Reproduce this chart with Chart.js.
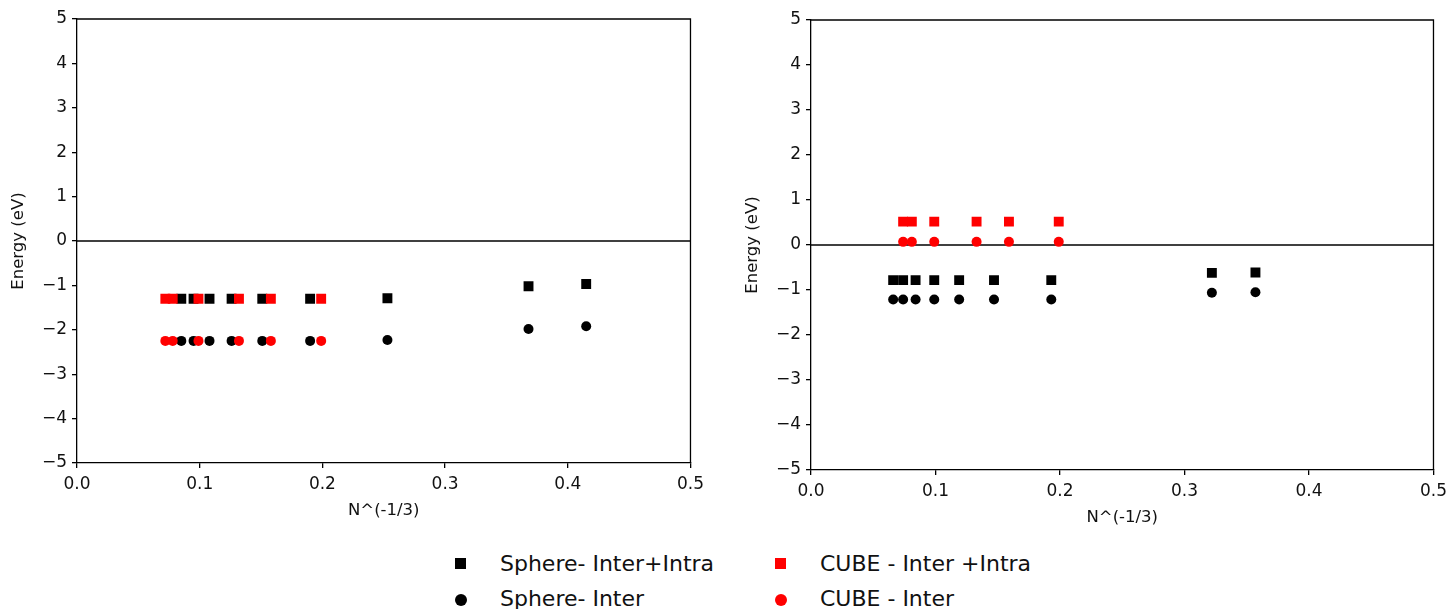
<!DOCTYPE html>
<html>
<head>
<meta charset="utf-8">
<script src="https://cdn.jsdelivr.net/npm/chart.js@4.4.1/dist/chart.umd.min.js"></script>
<style>
  body { margin: 0; background: #fff; width: 1453px; height: 609px; position: relative; overflow: hidden; font-family: "DejaVu Sans", sans-serif; }
  canvas { position: absolute; top: 0; }
  #left-chart { left: 0; }
  #right-chart { left: 734px; }
  .legend-mark { position: absolute; width: 11px; height: 11px; }
  .legend-text { position: absolute; font-size: 22px; color: #111; line-height: 26px; white-space: nowrap; }
</style>
</head>
<body>
<canvas id="left-chart" width="710" height="530"></canvas>
<canvas id="right-chart" width="719" height="537"></canvas>

<div class="legend-mark" style="left:455px;top:558px;background:#000"></div>
<div class="legend-text" style="left:500px;top:551px">Sphere- Inter+Intra</div>
<div class="legend-mark" style="left:455px;top:594px;width:12px;height:12px;background:#000;border-radius:50%"></div>
<div class="legend-text" style="left:500px;top:586px">Sphere- Inter</div>
<div class="legend-mark" style="left:775px;top:558px;background:#f00"></div>
<div class="legend-text" style="left:820px;top:551px">CUBE - Inter +Intra</div>
<div class="legend-mark" style="left:775px;top:594px;width:12px;height:12px;background:#f00;border-radius:50%"></div>
<div class="legend-text" style="left:820px;top:586px">CUBE - Inter</div>

<script>
// left panel
const leftSphereX = [0.085, 0.095, 0.108, 0.126, 0.151, 0.190, 0.253, 0.368, 0.415];
const leftSphereIntra = [-1.30, -1.30, -1.30, -1.30, -1.30, -1.30, -1.29, -1.02, -0.97];
const leftSphereInter = [-2.25, -2.25, -2.25, -2.25, -2.25, -2.25, -2.23, -1.98, -1.92];
const leftCubeX = [0.072, 0.078, 0.099, 0.132, 0.158, 0.199];
const leftCubeIntra = [-1.30, -1.30, -1.30, -1.30, -1.30, -1.30];
const leftCubeInter = [-2.25, -2.25, -2.25, -2.25, -2.25, -2.25];

// right panel
const rightSphereX = [0.066, 0.074, 0.084, 0.099, 0.119, 0.147, 0.193, 0.322, 0.357];
const rightSphereIntra = [-0.78, -0.78, -0.78, -0.78, -0.78, -0.78, -0.78, -0.62, -0.61];
const rightSphereInter = [-1.21, -1.21, -1.21, -1.21, -1.21, -1.21, -1.21, -1.06, -1.05];
const rightCubeX = [0.074, 0.081, 0.099, 0.133, 0.159, 0.199];
const rightCubeIntra = [0.52, 0.52, 0.52, 0.52, 0.52, 0.52];
const rightCubeInter = [0.07, 0.07, 0.07, 0.07, 0.07, 0.07];

const xTicks = [0, 0.1, 0.2, 0.3, 0.4, 0.5];
const yTicks = [-5, -4, -3, -2, -1, 0, 1, 2, 3, 4, 5];
const xTitle = 'N^(-1/3)';
const yTitle = 'Energy (eV)';

const pairUp = (xs, ys) => xs.map((x, i) => ({ x: x, y: ys[i] }));

// top and right spines, matplotlib style box
const boxPlugin = {
    id: 'box',
    afterDraw: (chart) => {
        const a = chart.chartArea;
        const ctx = chart.ctx;
        ctx.save();
        ctx.strokeStyle = '#000';
        ctx.lineWidth = 1.3;
        ctx.beginPath();
        ctx.moveTo(a.left, a.top);
        ctx.lineTo(a.right, a.top);
        ctx.lineTo(a.right, a.bottom);
        ctx.stroke();
        ctx.restore();
    }
};

function makeChart(id, sx, sIntra, sInter, cx, cIntra, cInter, padTop, axisH) {
    const ctx = document.getElementById(id).getContext('2d');
    const config = {
        type: 'scatter',
        data: {
            datasets: [
                { label: 'Sphere- Inter+Intra', data: pairUp(sx, sIntra), pointStyle: 'rect', pointRadius: 7, backgroundColor: '#000', borderWidth: 0, order: 1 },
                { label: 'Sphere- Inter', data: pairUp(sx, sInter), pointStyle: 'circle', pointRadius: 5, backgroundColor: '#000', borderWidth: 0, order: 1 },
                { label: 'CUBE - Inter +Intra', data: pairUp(cx, cIntra), pointStyle: 'rect', pointRadius: 7, backgroundColor: '#f00', borderWidth: 0, order: 0 },
                { label: 'CUBE - Inter', data: pairUp(cx, cInter), pointStyle: 'circle', pointRadius: 5, backgroundColor: '#f00', borderWidth: 0, order: 0 },
                { label: 'zero', type: 'line', data: [{ x: xTicks[0], y: 0 }, { x: xTicks[xTicks.length - 1], y: 0 }], borderColor: '#000', borderWidth: 1.5, pointRadius: 0, order: 2 }
            ]
        },
        options: {
            responsive: false,
            animation: false,
            layout: { padding: { top: padTop, right: 17, left: 0, bottom: 0 } },
            plugins: { legend: { display: false }, tooltip: { enabled: false } },
            scales: {
                x: {
                    type: 'linear',
                    min: xTicks[0],
                    max: xTicks[xTicks.length - 1],
                    afterBuildTicks: (scale) => { scale.ticks = xTicks.map(v => ({ value: v })); },
                    afterFit: (scale) => { scale.height = axisH; },
                    grid: { drawOnChartArea: false, drawTicks: true, tickLength: 5, color: '#000', lineWidth: 1.3 },
                    border: { color: '#000', width: 1.3 },
                    ticks: { color: '#111', font: { family: 'DejaVu Sans', size: 17 }, padding: 6, maxRotation: 0,
                        callback: (v) => v.toFixed(1) },
                    title: { display: true, text: xTitle, color: '#111', font: { family: 'DejaVu Sans', size: 16.5 }, padding: { top: 0, bottom: 9 } }
                },
                y: {
                    type: 'linear',
                    min: yTicks[0],
                    max: yTicks[yTicks.length - 1],
                    afterBuildTicks: (scale) => { scale.ticks = yTicks.map(v => ({ value: v })); },
                    afterFit: (scale) => { scale.width = 77; },
                    grid: { drawOnChartArea: false, drawTicks: true, tickLength: 5, color: '#000', lineWidth: 1.3 },
                    border: { color: '#000', width: 1.3 },
                    ticks: { color: '#111', font: { family: 'DejaVu Sans', size: 17 }, padding: 5,
                        callback: (v) => v < 0 ? '\u2212' + Math.abs(v) : '' + v },
                    title: { display: true, text: yTitle, color: '#111', font: { family: 'DejaVu Sans', size: 16.5 }, padding: { top: 8.5, bottom: 0 } }
                }
            }
        },
        plugins: [boxPlugin]
    };
    return new Chart(ctx, config);
}

makeChart('left-chart', leftSphereX, leftSphereIntra, leftSphereInter, leftCubeX, leftCubeIntra, leftCubeInter, 19, 67);
makeChart('right-chart', rightSphereX, rightSphereIntra, rightSphereInter, rightCubeX, rightCubeIntra, rightCubeInter, 20, 67);
</script>
</body>
</html>
